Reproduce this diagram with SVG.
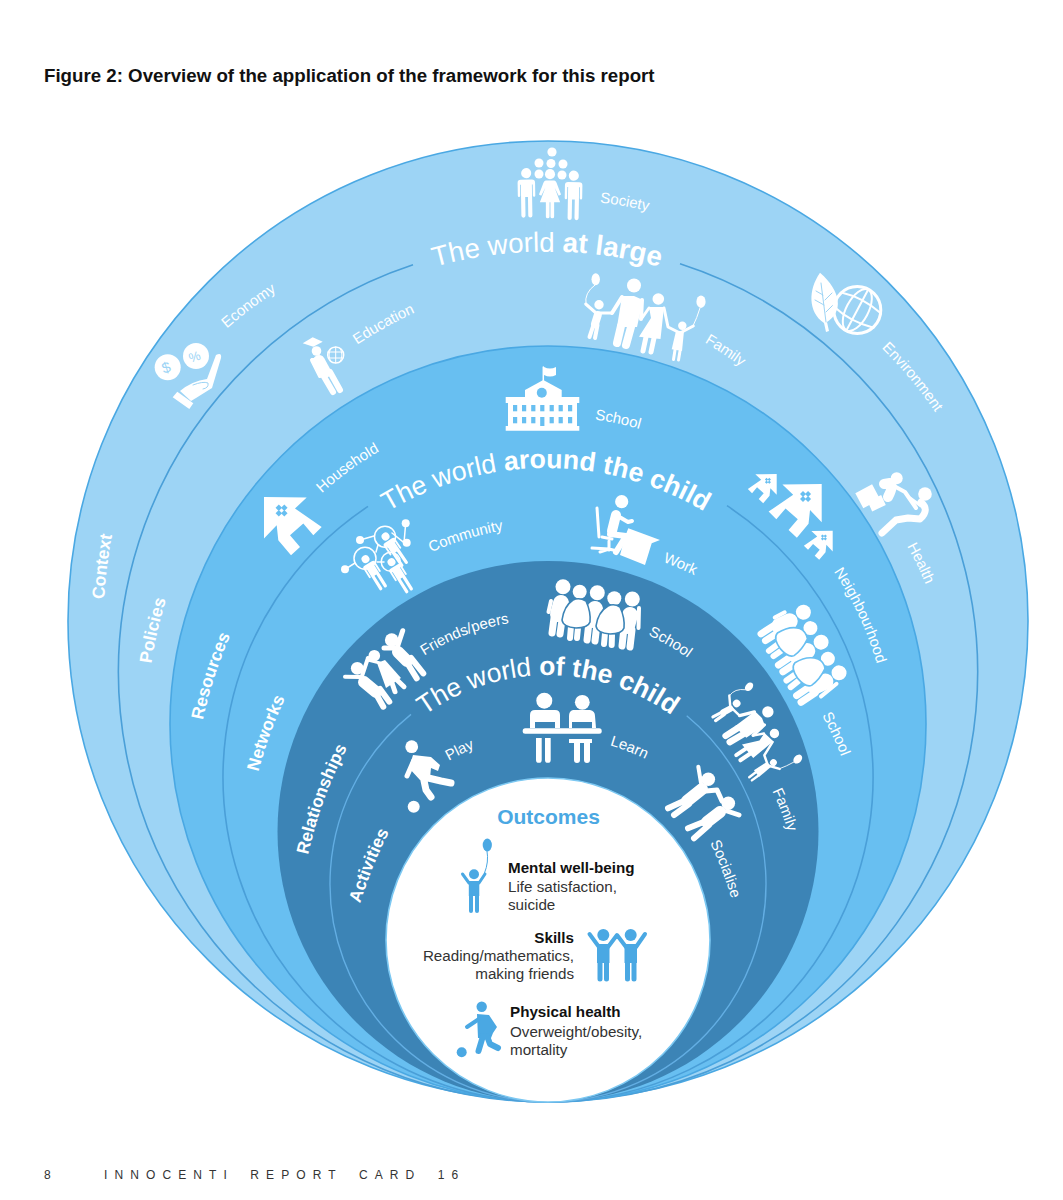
<svg xmlns="http://www.w3.org/2000/svg" width="1063" height="1200" viewBox="0 0 1063 1200">
<style>
text{font-family:"Liberation Sans",Arial,sans-serif}
.bg{fill:#fff}
.r1{fill:#9dd4f5;stroke:#4aa8e3;stroke-width:1.6}
.r3{fill:#68bff1;stroke:#4aa8e3;stroke-width:1.6}
.r5{fill:#3c84b6}
.r7{fill:#fff;stroke:#7cc8f2;stroke-width:1.6}
.arc{fill:none;stroke:#4a9fd8;stroke-width:1.6}
.arc2{fill:none;stroke:#63aee3;stroke-width:1.4}
.ttl{font-size:27.7px;fill:#fff;text-anchor:middle}
.lab{font-size:15px;fill:#fff;text-anchor:middle}
.sid{font-size:17.5px;font-weight:700;fill:#fff;text-anchor:middle}
.b{font-weight:700}
.ic{color:#fff}
.oc{color:#4aa8e3}
.f{fill:currentColor}
.l{fill:none;stroke:currentColor;stroke-linecap:round;stroke-linejoin:round}
.o{stroke:var(--bg);stroke-width:1.6}
.s1{stroke-width:1}.s15{stroke-width:1.5}.s2{stroke-width:2}.s3{stroke-width:3}.s4{stroke-width:4}.s5{stroke-width:5}.s6{stroke-width:6}.s7{stroke-width:7}.s8{stroke-width:8}.s10{stroke-width:10}.s12{stroke-width:12}.s16{stroke-width:16}
.hd{font-size:15.2px;font-weight:700;fill:#111}
.tx{font-size:15.2px;fill:#333}
.end{text-anchor:end}
.win{fill:#68bff1}
.coin{font-size:15px;fill:#9dd4f5;text-anchor:middle}
</style>
<defs>
<path id="t1" d="M-421,421A421,421 0 0 1 421,421"/>
<path id="t2" d="M-309,309A309,309 0 0 1 309,309"/>
<path id="t3" d="M-209,209A209,209 0 0 1 209,209"/>
<path id="a430" d="M-430,430A430,430 0 0 1 430,430"/>
<path id="a330" d="M-330,330A330,330 0 0 1 330,330"/>
<path id="a220" d="M-220,220A220,220 0 0 1 220,220"/>
<g id="man">
<circle class="f" cx="0" cy="-42" r="11"/>
<path class="f" d="M-12-28H12Q19-28 19-21V7a2.6 2.6 0 0 1-5.2 0V-17H12V50a4.5 4.5 0 0 1-9 0V10H-3V50a4.5 4.5 0 0 1-9 0V-17H-13.8V7a2.6 2.6 0 0 1-5.2 0V-21Q-19-28-12-28Z"/>
</g>
<g id="woman">
<circle class="f" cx="0" cy="-42" r="11"/>
<path class="f" d="M-9-28H9Q12-28 14-24L24 2 19 5 10-13 22 19H9V50a4 4 0 0 1-8 0V19H-1V50a4 4 0 0 1-8 0V19H-22L-10-13-19 5-24 2-14-24Q-12-28-9-28Z"/>
</g>
<g id="house">
<path class="f" d="M0,0L42.7,.6 31,11.6 57.7,30 49.3,38.3 39.3,26.6 26,38.3 36,50 27,58.3 14.3,43.3 12.7,28.3 0,41.6Z"/>
<g class="win"><rect x="12.5" y="8.5" width="4.6" height="4.6" transform="rotate(45 14.8 10.8)"/><rect x="18" y="8.5" width="4.6" height="4.6" transform="rotate(45 20.3 10.8)"/><rect x="12.5" y="14" width="4.6" height="4.6" transform="rotate(45 14.8 16.3)"/><rect x="18" y="14" width="4.6" height="4.6" transform="rotate(45 20.3 16.3)"/></g>
</g>
<g id="family">
<ellipse class="f" cx="595.7" cy="279.3" rx="4.2" ry="6"/>
<path class="l s1" d="M595,285Q584,293 586,304"/>
<circle class="f" cx="599" cy="304.7" r="4.7"/>
<path class="l s3" d="M585.7,304L596,313H612"/>
<path class="l s8" d="M597.8,315L595,324"/>
<path class="l s4" d="M593.5,325L589.5,337M597.5,325L595,338"/>
<circle class="f" cx="634" cy="285.5" r="7"/>
<path class="f" d="M622,296H634L643,300 637,327H617Z"/>
<path class="l s4" d="M622,297L612,313M642,300L641,319"/>
<path class="l s8" d="M621,326L617,343M631,327L626,345"/>
<circle class="f" cx="658.3" cy="299" r="5.8"/>
<path class="f" d="M649,307H664L660.5,339 639,336.7 651,318Z"/>
<path class="l s3" d="M649,308L642,318M664,308L668,327L680,333 693.3,326"/>
<path class="l s5" d="M646,337L643,351M654,338L651,352"/>
<path class="l s1" d="M693,326Q697,318 700,308"/>
<ellipse class="f" cx="701" cy="301.7" rx="4.6" ry="6.2"/>
<circle class="f" cx="682.3" cy="325.7" r="4.2"/>
<path class="f" d="M676,331H684L682,351 671.7,349.3Z"/>
<path class="l s3" d="M675,350L673.5,359.5M680,351L678.5,360"/>
</g>
<g id="crowd">
<circle class="f" cx="563" cy="586.7" r="7.5"/>
<path class="l s16" d="M561,603L558,614"/>
<path class="l s7" d="M554,618L552,633M562,620L560,634"/>
<path class="l s4" d="M551,601L548.5,612"/>
<circle class="f" cx="597.3" cy="592.7" r="7.5"/>
<path class="l s16" d="M595,609L592,620"/>
<path class="l s7" d="M589,622L587,640M597,624L595,641"/>
<circle class="f" cx="632.3" cy="599" r="7.5"/>
<path class="l s16" d="M630,615L627,626"/>
<path class="l s7" d="M624,628L622,646M632,630L630,647"/>
<path class="l s4" d="M639,608L638.5,628"/>
<path class="l s6" d="M571,626L570,638M578,628L577,638"/>
<circle class="f" cx="579.7" cy="591.7" r="7"/>
<path class="f o" d="M573,600Q579,597 586,601Q591,612 590,622Q588,628 576,628Q563,627 562,620Q564,606 573,600Z"/>
<path class="l s6" d="M605,633L604,644M612,635L611.7,645"/>
<circle class="f" cx="614.3" cy="598.3" r="7"/>
<path class="f o" d="M608,606Q614,603 620,607Q625,618 624,628Q622,634 610,634Q597,633 596,626Q598,612 608,606Z"/>
</g>
</defs>
<rect class="bg" width="1063" height="1200"/>
<text id="title" x="44" y="82" class="b" font-size="18.7" fill="#111">Figure 2: Overview of the application of the framework for this report</text>
<g id="rings">
<circle class="r1" cx="548" cy="621" r="480"/>
<path class="arc" d="M680,263.8A429.5,429.5 0 1 1 413,264.8"/>
<circle class="r3" cx="548" cy="724" r="378"/>
<path class="arc" d="M727,505.7A325,325 0 1 1 368,506.4"/>
<circle class="r5" cx="548" cy="831.5" r="270.5"/>
<path class="arc2" d="M686.7,715.8A218,218 0 1 1 411,714.4"/>
<circle class="r7" cx="548" cy="940" r="162"/>
</g>
<g id="titles">
<text class="ttl" transform="translate(547,251.5)"><textPath href="#t1" startOffset="50%">The world <tspan class="b">at large</tspan></textPath></text>
<text class="ttl" style="font-size:26.7px" transform="translate(546,468)"><textPath href="#t2" startOffset="50%">The world <tspan class="b">around the child</tspan></textPath></text>
<text class="ttl" style="font-size:26.4px" transform="translate(548,675)"><textPath href="#t3" startOffset="50%">The world <tspan class="b">of the child</tspan></textPath></text>
</g>
<g id="side-labels">
<text class="sid" transform="translate(107,567) rotate(-83)"><textPath href="#a430" startOffset="50%">Context</textPath></text>
<text class="sid" transform="translate(157.5,631.3) rotate(-77)"><textPath href="#a430" startOffset="50%">Policies</textPath></text>
<text class="sid" transform="translate(214.4,677) rotate(-72)"><textPath href="#a430" startOffset="50%">Resources</textPath></text>
<text class="sid" transform="translate(270,734.5) rotate(-70)"><textPath href="#a430" startOffset="50%">Networks</textPath></text>
<text class="sid" transform="translate(324,800) rotate(-70)"><textPath href="#a430" startOffset="50%">Relationships</textPath></text>
<text class="sid" transform="translate(373,867) rotate(-68)"><textPath href="#a430" startOffset="50%">Activities</textPath></text>
</g>
<g id="labels">
<text class="lab" transform="translate(624,206) rotate(10)"><textPath href="#a430" startOffset="50%">Society</textPath></text>
<text class="lab" transform="translate(251,309) rotate(-37)"><textPath href="#a430" startOffset="50%">Economy</textPath></text>
<text class="lab" transform="translate(910,379) rotate(50)"><textPath href="#a430" startOffset="50%">Environment</textPath></text>
<text class="lab" transform="translate(385.5,327.5) rotate(-29)"><textPath href="#a430" startOffset="50%">Education</textPath></text>
<text class="lab" transform="translate(723,354) rotate(33.6)"><textPath href="#a430" startOffset="50%">Family</textPath></text>
<text class="lab" transform="translate(917,565) rotate(64)"><textPath href="#a430" startOffset="50%">Health</textPath></text>
<text class="lab" transform="translate(349.5,470.5) rotate(-36)"><textPath href="#a330" startOffset="50%">Household</textPath></text>
<text class="lab" transform="translate(617.3,423.3) rotate(12)"><textPath href="#a330" startOffset="50%">School</textPath></text>
<text class="lab" transform="translate(466.5,539) rotate(-17)"><textPath href="#a330" startOffset="50%">Community</textPath></text>
<text class="lab" transform="translate(678.7,568) rotate(23)"><textPath href="#a330" startOffset="50%">Work</textPath></text>
<text class="lab" transform="translate(859,616) rotate(65)"><textPath href="#a330" startOffset="50%">Neighbourhood</textPath></text>
<text class="lab" transform="translate(832.5,735.5) rotate(65)"><textPath href="#a330" startOffset="50%">School</textPath></text>
<text class="lab" transform="translate(465,635) rotate(-21)"><textPath href="#a220" startOffset="50%">Friends/peers</textPath></text>
<text class="lab" transform="translate(668.5,645.5) rotate(30)"><textPath href="#a220" startOffset="50%">School</textPath></text>
<text class="lab" transform="translate(781,811) rotate(69)"><textPath href="#a330" startOffset="50%">Family</textPath></text>
<text class="lab" transform="translate(722,870.3) rotate(69)"><textPath href="#a330" startOffset="50%">Socialise</textPath></text>
<text class="lab" transform="translate(461.5,754) rotate(-26)"><textPath href="#a220" startOffset="50%">Play</textPath></text>
<text class="lab" transform="translate(628,751.3) rotate(21)"><textPath href="#a220" startOffset="50%">Learn</textPath></text>
</g>
<g id="icons" class="ic">
<g id="icon-society">
<circle class="f" cx="552" cy="152" r="4.6"/><circle class="f" cx="539" cy="163" r="4.5"/><circle class="f" cx="551" cy="163.5" r="4.5"/><circle class="f" cx="563" cy="164" r="4.5"/><circle class="f" cx="539" cy="174" r="4.5"/><circle class="f" cx="562" cy="175" r="4.5"/>
<use href="#man" transform="translate(526.5,192.5) rotate(-1) scale(.46)"/>
<use href="#woman" transform="translate(550,193.5) scale(.46)"/>
<use href="#man" transform="translate(573.5,195) rotate(1) scale(.46)"/>
</g>
<g id="icon-family"><use href="#family"/></g>
<g id="icon-economy">
<circle class="f" cx="167.7" cy="367.3" r="13"/><circle class="f" cx="196" cy="356" r="13"/>
<text class="coin" transform="translate(167.7,372.5) rotate(-18)">$</text>
<text class="coin" style="font-size:13px" transform="translate(196,361) rotate(-18)">%</text>
<path class="f" d="M180,391Q192,381 207,379L216,355Q222,352 221,358L212,388 196,398 191,401Z"/>
<path class="f" d="M177.3,391.7L193.3,403.3 189.3,409 172.7,397.3Z"/>
<path class="l s1" style="stroke:#9dd4f5" d="M193,385Q203,381 208,383Q209,388 203,389"/>
</g>
<g id="icon-education">
<path class="f" d="M302.7,343.3L312.7,337.3 322.7,341.7 313.3,346.7Z"/>
<circle class="f" cx="316.5" cy="351" r="4.8"/>
<circle class="l s15" cx="335.7" cy="355" r="8"/>
<path class="l s1" d="M328,352H343M329,358H343M335.7,347V363M331,348Q327,355 331,362M340,348Q344,355 340,362"/>
<path class="f" d="M311,358H323L328,373 322,375Z"/>
<path class="l s12" d="M319,361L325,372"/>
<path class="l s6" d="M323,375L333,392M330,372L340,390"/>
<path class="l s4" d="M312,360L320,376"/>
</g>
<g id="icon-household"><use href="#house" transform="translate(264,497)"/></g>
<g id="icon-environment">
<path class="f" d="M820,272.7C808,290 808,312 824,323L826,332 829,331 827,322C843,312 842,292 820,272.7Z"/>
<path class="l s1" style="stroke:#9dd4f5" d="M821,283L826,322M823,295L816,291M824,305L815,300M825,300L832,293M826,312L834,304"/>
<circle class="l s3" cx="857.3" cy="310" r="23.5"/>
<g transform="rotate(28 857.3 310)"><ellipse class="l s2" cx="857.3" cy="310" rx="11" ry="23"/><path class="l s2" d="M857.3,287V333M835,302Q857,296 880,302M835,318Q857,324 880,318"/></g>
</g>
<g id="icon-health">
<rect class="f" x="858" y="488" width="19" height="17" transform="rotate(-28 867 496)"/>
<rect class="f" x="869" y="498" width="15" height="11" transform="rotate(-25 876 503)"/>
<circle class="f" cx="896.7" cy="478.3" r="6"/>
<path class="l s10" d="M884,484L890,483Q894,486 888,497"/>
<path class="l s4" d="M894,486L905,492 916,508"/>
<circle class="f" cx="925" cy="494" r="6.8"/>
<path class="l s7" d="M921,502Q930,510 920,519L908,518 896,520 882,533"/>
<path class="l s3" d="M910,498L921,506"/>
</g>
<g id="icon-neighbourhood">
<use href="#house" transform="translate(776.7,474) scale(-.5,.5)"/>
<use href="#house" transform="translate(821.7,484) scale(-.92,.92)"/>
<use href="#house" transform="translate(832.7,530.7) scale(-.5,.5)"/>
</g>
<g id="icon-school">
<path class="l s15" d="M543.3,367V381"/>
<path class="f" d="M544,367Q550,370 556,367V375Q550,378 544,375Z"/>
<path class="f" d="M543.3,380L561.7,390V398H525V390Z"/>
<path class="f" d="M505.7,397H579.3V403H577V426H579.3V430.7H505.7V426H508V403H505.7Z"/>
<circle class="win" cx="541.8" cy="392.7" r="5"/>
<g class="win">
<rect x="513" y="405" width="4.2" height="6.3"/><rect x="522" y="405" width="4.2" height="6.3"/><rect x="531.2" y="405" width="4.2" height="6.3"/><rect x="540.2" y="405" width="4.2" height="6.3"/><rect x="549.6" y="405" width="4.2" height="6.3"/><rect x="558.6" y="405" width="4.2" height="6.3"/><rect x="568" y="405" width="4.2" height="6.3"/>
<rect x="513" y="417" width="4.2" height="6.3"/><rect x="522" y="417" width="4.2" height="6.3"/><rect x="531.2" y="417" width="4.2" height="6.3"/><rect x="540.2" y="417" width="4.2" height="9"/><rect x="549.6" y="417" width="4.2" height="6.3"/><rect x="558.6" y="417" width="4.2" height="6.3"/><rect x="568" y="417" width="4.2" height="6.3"/>
</g>
</g>
<g id="icon-community">
<path class="l s15" d="M405.7,523.3L404,542.7 392,533M360,540L374,536M345,569.3L355,563M376,552L378,545M377,562L384,562"/>
<circle class="f" cx="405.7" cy="523.3" r="4"/><circle class="f" cx="406.7" cy="542.7" r="4"/><circle class="f" cx="360" cy="540" r="4"/><circle class="f" cx="345" cy="569.3" r="4"/>
<circle class="l s15" cx="385" cy="536.7" r="10.5"/><circle class="l s15" cx="365" cy="558.3" r="11"/><circle class="l s15" cx="390.7" cy="561.7" r="9.5"/>
<use href="#man" transform="translate(394,549) rotate(-34) scale(.36)"/>
<use href="#man" transform="translate(373.5,572) rotate(-32) scale(.36)"/>
<use href="#man" transform="translate(399.5,575) rotate(-32) scale(.36)"/>
</g>
<g id="icon-work">
<circle class="f" cx="621.7" cy="501.7" r="6.6"/>
<path class="l s3" d="M597,508L599,537"/>
<path class="l s10" d="M616,515L612,531"/>
<path class="l s4" d="M616,515L628,522 632,521"/>
<path class="l s6" d="M610,534L626,536 616,552"/>
<path class="l s3" d="M602,537L612,539M609,541V550M592,548L609,549 617,551M600,552L609,549"/>
<path class="f" d="M628.3,528.3L660,540 651.7,543.3 645,565 620,555 625,536.7Z"/>
</g>
<g id="icon-friends">
<circle class="f" cx="357.3" cy="668.3" r="6.4"/>
<path class="l s4" d="M345,676.7L360,677"/>
<path class="l s4" d="M362,676L368,658"/>
<path class="l s12" d="M364,682L376,692"/>
<path class="l s6" d="M375,692L383.3,706.7M380,689L389.3,701.7"/>
<circle class="f" cx="374.3" cy="655.7" r="5.8"/>
<path class="f" d="M377,663L385,660 401,678 386,688Z"/>
<path class="l s5" d="M392,683L395,691.7M397,680L404,686.7"/>
<path class="l s3" d="M368,660L380,663"/>
<circle class="f" cx="391.7" cy="640" r="6.8"/>
<path class="l s5" d="M397,648L402.7,630.7M384,648L394,648"/>
<path class="l s12" d="M398,652L407,661"/>
<path class="l s6" d="M406,661L416.7,678.3M411,658L423.3,673.3"/>
</g>
<g id="icon-crowd" style="--bg:#3c84b6"><use href="#crowd"/></g>
<g id="icon-crowd2" style="--bg:#68bff1"><use href="#crowd" transform="translate(821,642.5) rotate(49.5) translate(-597.5,-593)"/></g>
<g id="icon-family2"><use href="#family" transform="translate(773.5,723) rotate(44) scale(.81) translate(-648.5,-290.5)"/></g>
<g id="icon-learn">
<circle class="f" cx="544.3" cy="700.7" r="8"/><circle class="f" cx="582.3" cy="702.3" r="7.4"/>
<path class="f" d="M535,710H555Q560,710 560,715V728H555V722H535V728H530V715Q530,710 535,710Z"/>
<path class="f" d="M573,710H590Q595,711 595,716L596,728H592V722H572V728H569V716Q569,711 573,710Z"/>
<rect class="f" x="522.7" y="728.3" width="79" height="5.4" rx="2.5"/>
<path class="f" d="M536,738H541.7V760a2.8 2.8 0 0 1-5.7 0ZM545,738H550.7V760a2.8 2.8 0 0 1-5.7 0Z"/>
<path class="f" d="M569,739H592V743H590V760a3 3 0 0 1-6 0V743H580V760a3 3 0 0 1-6 0V743H569Z"/>
</g>
<g id="icon-play">
<circle class="f" cx="411.7" cy="746.7" r="6.4"/>
<path class="f" d="M413,755L431,757 440,765 438,771 431,768 430,778 420,780 409,768Z"/>
<path class="l s5" d="M414,760L407,776"/>
<path class="l s7" d="M424,777L441,781 451,783M423,776L426,790 431,797"/>
<circle class="f" cx="413.7" cy="806.7" r="6"/>
</g>
<g id="icon-socialise">
<circle class="f" cx="708.3" cy="779.3" r="6.8"/>
<path class="l s4" d="M698.3,766.7L701,783"/>
<path class="l s12" d="M702,789L687,801"/>
<path class="l s6" d="M686,800L668,808.3M689,804L674,815"/>
<path class="l s5" d="M706,791L717,790 722,801"/>
<circle class="f" cx="728.3" cy="803.3" r="6.8"/>
<path class="l s12" d="M720,812L707,822"/>
<path class="l s6" d="M706,821L688,828.3M709,825L694,838.3"/>
<path class="l s5" d="M727,811L739,815"/>
</g>
</g>
<g id="outcomes">
<text x="548.5" y="824" text-anchor="middle" class="b" font-size="21" fill="#4aa8e3">Outcomes</text>
<g id="icon-mental" class="oc">
<ellipse class="f" cx="487.3" cy="845" rx="4.6" ry="6.5"/>
<path class="l s1" d="M487,851Q489,862 484.5,873"/>
<circle class="f" cx="474" cy="874.3" r="5"/>
<path class="l s3" d="M462.5,874L469,883M485,874L479,883"/>
<rect class="f" x="468.8" y="881" width="10.5" height="15"/>
<path class="l s4" d="M471,896V911M477,896V911"/>
</g>
<text class="hd" x="508" y="873">Mental well-being</text>
<text class="tx" x="508" y="892">Life satisfaction,</text>
<text class="tx" x="508" y="910">suicide</text>
<g id="icon-skills" class="oc">
<circle class="f" cx="603.3" cy="935" r="6"/><circle class="f" cx="630.7" cy="935" r="6"/>
<path class="l s4" d="M589.5,934L599,947M608,947L617,935 626,947M636,947L645,934"/>
<rect class="f" x="597" y="944" width="12.5" height="19"/><rect class="f" x="624.5" y="944" width="12.5" height="19"/>
<path class="l s5" d="M600,963V979M606.5,963V979M627.5,963V979M634,963V979"/>
</g>
<text class="hd end" x="574" y="943">Skills</text>
<text class="tx end" x="574" y="961">Reading/mathematics,</text>
<text class="tx end" x="574" y="979">making friends</text>
<g id="icon-physical" class="oc">
<circle class="f" cx="481.7" cy="1006.7" r="5.2"/>
<path class="f" d="M477,1014L489,1015 497,1027 493,1033 491,1038 478,1038Z"/>
<path class="l s4" d="M479,1019L467,1027"/>
<path class="l s6" d="M483,1036L478.5,1051M487,1036L490,1044 498,1048"/>
<circle class="f" cx="461.7" cy="1052.3" r="5"/>
</g>
<text class="hd" x="510" y="1017">Physical health</text>
<text class="tx" x="510" y="1037">Overweight/obesity,</text>
<text class="tx" x="510" y="1055">mortality</text>
</g>
<g id="footer" font-size="12" fill="#333">
<text x="44" y="1179">8</text>
<text x="104" y="1179" letter-spacing="7.1" word-spacing="6">INNOCENTI REPORT CARD 16</text>
</g>
</svg>
